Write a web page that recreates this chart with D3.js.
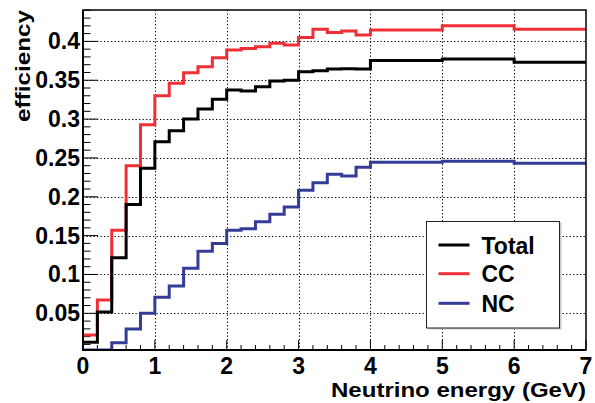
<!DOCTYPE html>
<html><head><meta charset="utf-8">
<script src="https://cdn.jsdelivr.net/npm/d3@7"></script>
<style>
html,body{margin:0;padding:0;background:#fff;}
text{font-family:"Liberation Sans",Arial,Helvetica,sans-serif;font-weight:bold;}
</style></head>
<body><svg id="c" width="595" height="403"></svg>
<script>
// ---- data ----
const binEdges = [0,0.2,0.4,0.6,0.8,1.0,1.2,1.4,1.6,1.8,2.0,2.2,2.4,2.6,2.8,3.0,3.2,3.4,3.6,3.8,4,5,6,7];
const totalEff = [0.0127,0.0517,0.1216,0.190,0.2366,0.2709,0.285,0.300,0.313,0.3255,0.3375,0.336,0.3417,0.349,0.350,0.361,0.3623,0.3644,0.3648,0.3644,0.3753,0.3773,0.373];
const ccEff    = [0.022,0.0672,0.157,0.240,0.2928,0.330,0.346,0.3597,0.3674,0.379,0.3889,0.391,0.3931,0.3975,0.3953,0.405,0.4155,0.4116,0.4133,0.4082,0.4146,0.4202,0.4155];
const ncEff    = [0,0,0.0122,0.0298,0.050,0.0706,0.0852,0.108,0.130,0.140,0.157,0.159,0.168,0.1775,0.187,0.2085,0.218,0.229,0.2267,0.238,0.2444,0.2457,0.2431];
const seriesNames = ["Total","CC","NC"];
const seriesColors = ["#000000","#ee2f35","#343c98"];
const xTicks = [0,1,2,3,4,5,6,7];
const yTicks = [0.05,0.1,0.15,0.2,0.25,0.3,0.35,0.4];
const xTitle = "Neutrino energy (GeV)";
const yTitle = "efficiency";

// ---- layout ----
const L=83, R=586, T=10, B=350;
const svg = d3.select("#c");
const x = d3.scaleLinear().domain([0,7]).range([L,R]);
const y = d3.scaleLinear().domain([0.0028,0.4404]).range([B,T]).clamp(true);

// grid
const grid = svg.append("g").attr("stroke","#000").attr("stroke-width",1).attr("stroke-dasharray","1.3,2.2");
grid.selectAll(".gx").data(xTicks.filter(d=>d>0&&d<7)).join("line")
  .attr("x1",d=>Math.round(x(d))+0.5).attr("x2",d=>Math.round(x(d))+0.5).attr("y1",T).attr("y2",B);
grid.selectAll(".gy").data(yTicks).join("line")
  .attr("y1",d=>Math.round(y(d))+0.5).attr("y2",d=>Math.round(y(d))+0.5).attr("x1",L).attr("x2",R);

// ticks
const minorX = d3.range(0,7.0001,0.2);
const minorY = d3.range(0.01,0.4401,0.01);
const tk = svg.append("g").attr("stroke","#000").attr("stroke-width",1);
minorX.forEach(v=>{
  const major = Math.abs(v-Math.round(v))<1e-6;
  tk.append("line").attr("x1",x(v)).attr("x2",x(v)).attr("y1",B).attr("y2",B-(major?10:5));
});
minorY.forEach(v=>{
  const major = Math.abs(v*20-Math.round(v*20))<1e-6;
  tk.append("line").attr("x1",L).attr("x2",L+(major?15:7.5)).attr("y1",y(v)).attr("y2",y(v));
});

// histograms
svg.append("clipPath").attr("id","pc").append("rect").attr("x",L).attr("y",T).attr("width",R-L).attr("height",B-T);
function stepPts(vals){
  const pts=[];
  vals.forEach((v,i)=>{pts.push([binEdges[i],v]);pts.push([binEdges[i+1],v]);});
  return pts;
}
const line = d3.line().x(d=>x(d[0])).y(d=>y(d[1]));
const order = [[ccEff,1],[ncEff,2],[totalEff,0]];
order.forEach(([vals,ci])=>{
  svg.append("path").attr("d",line(stepPts(vals))).attr("fill","none")
    .attr("stroke",seriesColors[ci]).attr("stroke-width",3).attr("stroke-linejoin","miter")
    .attr("clip-path","url(#pc)");
});

// frame
svg.append("rect").attr("x",L).attr("y",T).attr("width",R-L).attr("height",B-T)
  .attr("fill","none").attr("stroke","#000").attr("stroke-width",1.5);
svg.append("line").attr("x1",L).attr("x2",L).attr("y1",T).attr("y2",B+1).attr("stroke","#000").attr("stroke-width",2);
svg.append("line").attr("x1",L-1).attr("x2",R).attr("y1",B).attr("y2",B).attr("stroke","#000").attr("stroke-width",2);

// tick labels
svg.append("g").selectAll("text").data(xTicks).join("text")
  .attr("x",d=>x(d)).attr("y",374).attr("text-anchor","middle").attr("font-size",23).text(d=>d);
svg.append("g").selectAll("text").data(yTicks).join("text")
  .attr("x",80).attr("y",d=>y(d)+8).attr("text-anchor","end").attr("font-size",23).text(d=>d);

// axis titles
svg.append("text").attr("x",586).attr("y",396.5).attr("text-anchor","end").attr("font-size",20)
  .attr("textLength",255).attr("lengthAdjust","spacingAndGlyphs").text(xTitle);
svg.append("text").attr("transform","translate(30,10) rotate(-90)").attr("text-anchor","end").attr("font-size",20)
  .attr("textLength",112).attr("lengthAdjust","spacingAndGlyphs").text(yTitle);

// legend
const lg = svg.append("g");
lg.append("rect").attr("x",428.5).attr("y",222.5).attr("width",133).attr("height",107).attr("fill","#c8c8c8");
lg.append("rect").attr("x",426.5).attr("y",221.5).attr("width",133).attr("height",106.5).attr("fill","#fff").attr("stroke","#222").attr("stroke-width",1);
const rowsY=[245,273.7,303.3];
seriesNames.forEach((n,i)=>{
  lg.append("line").attr("x1",438.5).attr("x2",469.5).attr("y1",rowsY[i]).attr("y2",rowsY[i])
    .attr("stroke",seriesColors[i]).attr("stroke-width",3);
  lg.append("text").attr("x",481.5).attr("y",rowsY[i]+8.5).attr("font-size",23).text(n);
});
</script></body></html>
